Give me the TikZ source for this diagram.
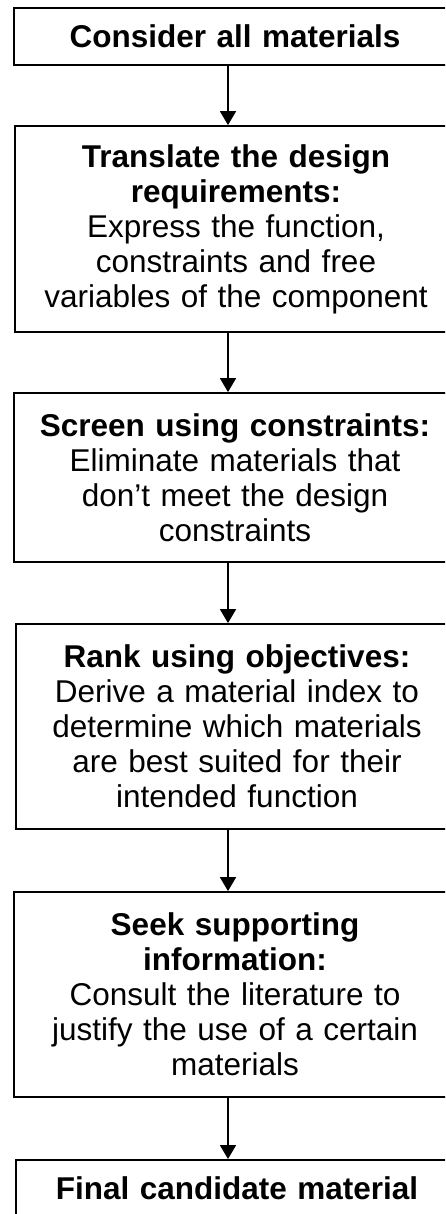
\documentclass[tikz,border=0pt]{standalone}
\usepackage{fontspec}
\setmainfont{Liberation Sans}
\usetikzlibrary{arrows.meta}
\begin{document}
\begin{tikzpicture}[x=1pt,y=-1pt,
  stepbox/.style={draw=black,line width=1.8pt,fill=white,minimum width=442pt,
    text width=436pt,align=center,inner sep=0pt,
    font=\fontsize{31.5}{35}\selectfont},
  flow/.style={line width=1.8pt,-{Triangle[width=16pt,length=14pt]}}]
\clip (0,0) rectangle (445,1214);
\fill[white] (0,0) rectangle (445,1214);
\coordinate (ax) at (228,0);
\node[stepbox,minimum height=57pt] (b1) at (235,36.5) {\textbf{Consider all materials}};
\node[stepbox,minimum height=206pt] (b2) at (236,229) {\textbf{Translate the design}\\\textbf{requirements:}\\Express the function,\\constraints and free\\variables of the component};
\node[stepbox,minimum height=169pt] (b3) at (235,477.5) {\textbf{Screen using constraints:}\\Eliminate materials that\\don’t meet the design\\constraints};
\node[stepbox,minimum height=205pt] (b4) at (237,726.5) {\textbf{Rank using objectives:}\\Derive a material index to\\determine which materials\\are best suited for their\\intended function};
\node[stepbox,minimum height=205pt] (b5) at (235,994.5) {\textbf{Seek supporting}\\\textbf{information:}\\Consult the literature to\\justify the use of a certain\\materials};
\node[stepbox,minimum height=57pt,anchor=north] (b6) at (237,1159) {\textbf{Final candidate material}};
\draw[flow] (b1.south -| ax) -- (b2.north -| ax);
\draw[flow] (b2.south -| ax) -- (b3.north -| ax);
\draw[flow] (b3.south -| ax) -- (b4.north -| ax);
\draw[flow] (b4.south -| ax) -- (b5.north -| ax);
\draw[flow] (b5.south -| ax) -- (b6.north -| ax);
\end{tikzpicture}
\end{document}
